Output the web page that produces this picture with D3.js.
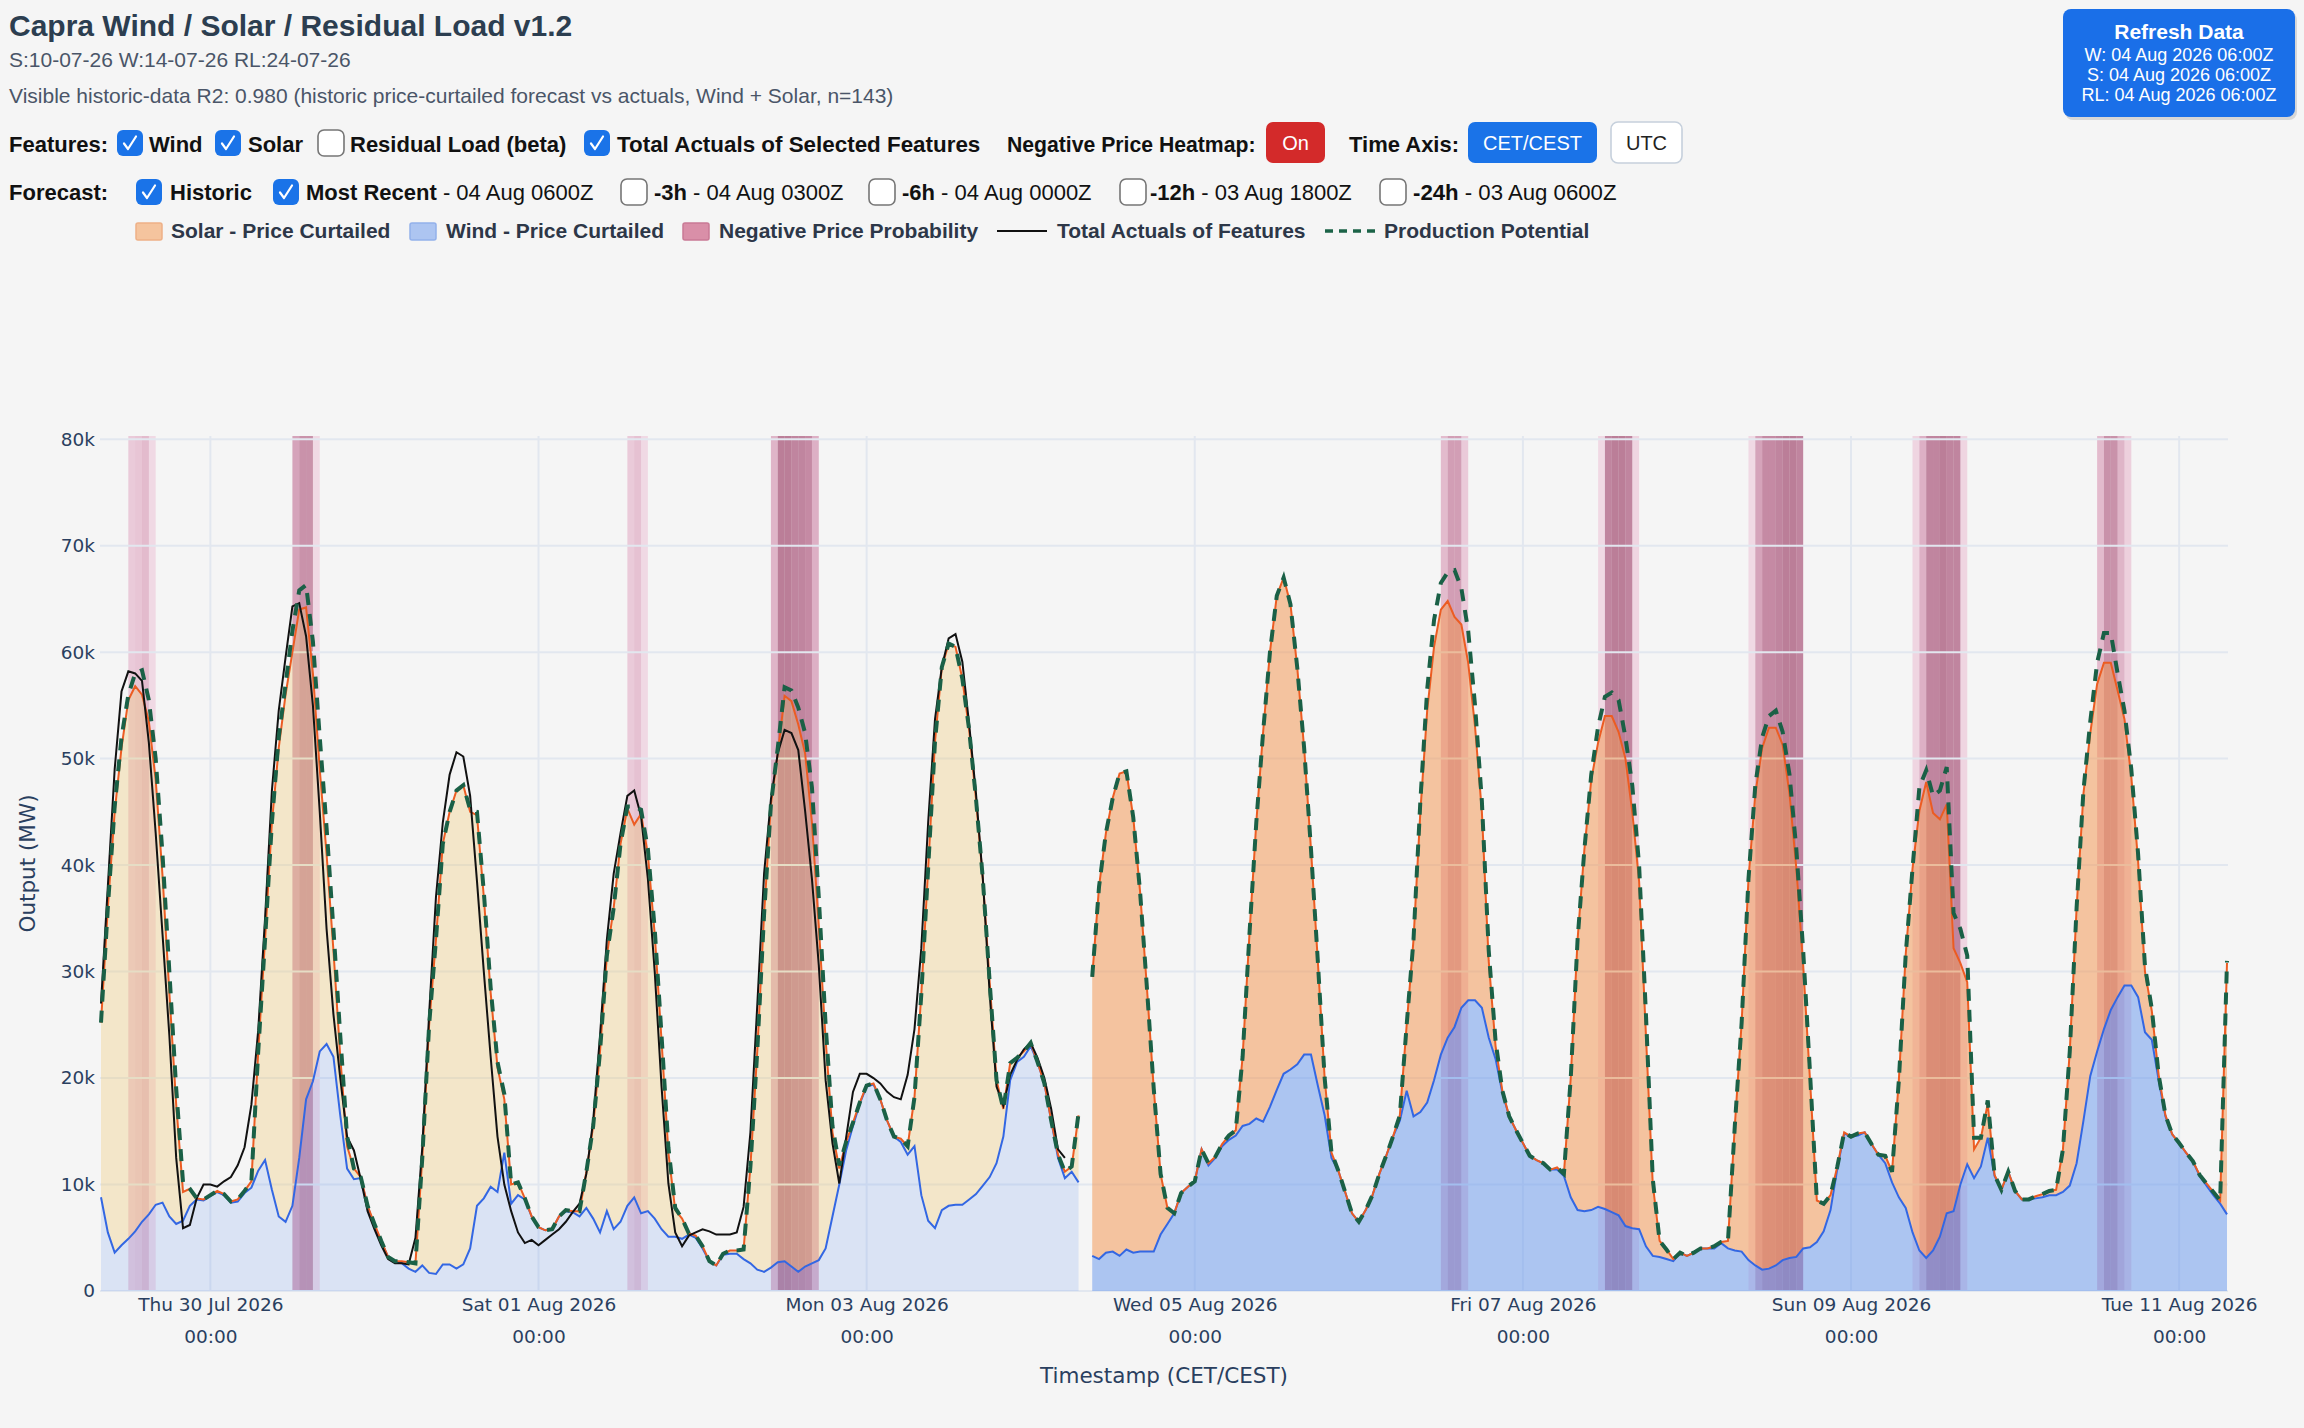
<!DOCTYPE html>
<html>
<head>
<meta charset="utf-8">
<script src="https://cdn.jsdelivr.net/npm/d3@7"></script>
<style>
body { margin: 0; background: #f5f5f5; }
svg { display: block; font-family: "Liberation Sans", Arial, sans-serif; }
</style>
</head>
<body>
<svg id="chart" width="2304" height="1428"></svg>
<script>
// hourly values in thousand MW
var histStart = "2026-07-29 08:00";
var fcStart = "2026-08-04 09:00";

var histWind = [
    8.8, 5.5, 3.6, 4.3, 4.9, 5.6, 6.5, 7.2, 8.1, 8.3,
    7.0, 6.3, 6.6, 8.0, 8.6, 8.5, 8.9, 9.3, 9.0, 8.3,
    8.4, 9.2, 9.7, 11.3, 12.3, 9.5, 7.0, 6.5, 8.0, 12.5,
    18.0, 19.7, 22.5, 23.2, 22.0, 16.5, 11.5, 10.5, 10.6, 8.0,
    6.0, 4.6, 3.2, 2.7, 2.6, 2.1, 1.8, 2.4, 1.7, 1.6,
    2.5, 2.5, 2.1, 2.5, 4.0, 8.0, 8.7, 9.8, 9.3, 13.0,
    8.2, 9.0, 8.6, 7.0, 6.0, 5.7, 5.8, 7.0, 7.5, 7.4,
    7.0, 7.8, 6.8, 5.5, 7.5, 5.8, 6.5, 8.0, 8.8, 7.3,
    7.5, 6.8, 5.8, 5.1, 5.1, 4.9, 5.3, 5.0, 4.0, 2.8,
    2.4, 3.4, 3.5, 3.5, 3.0, 2.6, 2.0, 1.8, 2.2, 2.7,
    2.8, 2.3, 1.8, 2.3, 2.6, 2.9, 4.0, 7.0, 10.0, 13.2,
    15.5, 17.6, 19.2, 19.4, 18.0, 16.0, 14.5, 14.0, 12.8, 13.6,
    9.0, 6.6, 5.9, 7.6, 8.0, 8.1, 8.1, 8.6, 9.1, 9.9,
    10.7, 12.0, 14.5, 19.8, 21.5, 22.0, 23.0, 21.5, 19.5, 16.0,
    12.5, 10.6, 11.2, 10.2
];
var histWindSolar = [
    25.2, 36, 45, 51, 55.5, 56.8, 56, 53.5, 48, 39,
    28, 17.5, 9.3, 9.6, 8.7, 8.6, 9.0, 9.4, 9.1, 8.4,
    8.6, 9.4, 10.3, 22.5, 33, 44, 51, 56, 60, 64,
    64.2, 58, 49, 41, 32, 22, 13.6, 11.5, 10.7, 8.0,
    6.3, 4.7, 3.2, 2.8, 2.8, 2.7, 2.6, 12.5, 25, 33,
    42, 45, 47, 47.5, 45, 44.7, 37, 28, 21, 18,
    10, 10.2, 8.7, 7.0, 6.0, 5.7, 5.8, 7.0, 7.6, 7.5,
    7.5, 11.2, 15.5, 22.5, 31.5, 36, 42, 45.3, 43.8, 44.8,
    41, 33.5, 23.5, 13, 7.6, 6.8, 5.4, 5.2, 4.2, 2.8,
    2.4, 3.5, 3.8, 3.8, 3.9, 11.7, 22.5, 35.4, 45.7, 50.5,
    55.9, 55.4, 53.2, 50.5, 44, 34.3, 23.6, 14.9, 11.5, 14.0,
    15.8, 17.7, 19.3, 19.5, 18.0, 16.0, 14.5, 14.3, 13.6, 18.2,
    27.9, 39.7, 51.6, 58.6, 60.8, 60.5, 57.5, 52.7, 46.2, 38.7,
    29, 19.8, 17.1, 21.4, 21.9, 22.5, 23.3, 21.5, 19.5, 16.0,
    12.8, 11.2, 11.7, 16.5
];
var histPotential = [
    25.2, 36, 45.5, 52, 56, 58, 58.3, 55.5, 50, 41,
    30, 19, 10.2, 9.6, 8.7, 8.6, 9.0, 9.4, 9.1, 8.4,
    8.6, 9.4, 10.3, 22.5, 33, 44, 52, 57, 62, 65.8,
    66.3, 61, 52, 43.5, 34, 24, 14.5, 11.5, 10.7, 8.0,
    6.3, 4.7, 3.2, 2.8, 2.8, 2.7, 2.6, 12.5, 25, 33,
    42, 45, 47, 47.5, 45.2, 45, 37.5, 28.5, 21.5, 18.5,
    10, 10.2, 8.7, 7.0, 6.0, 5.7, 5.8, 7.0, 7.6, 7.5,
    7.5, 11.2, 15.5, 22.5, 31.5, 36, 42, 45.5, 45.5, 45.2,
    41.5, 34, 24, 13.5, 7.8, 6.8, 5.4, 5.2, 4.2, 2.8,
    2.4, 3.5, 3.8, 3.8, 3.9, 11.7, 22.5, 35.4, 45.7, 51,
    56.7, 56.4, 54.8, 52.4, 47.3, 37, 25, 15.5, 11.8, 14.0,
    15.8, 17.7, 19.3, 19.5, 18.0, 16.0, 14.5, 14.3, 13.6, 18.2,
    27.9, 39.7, 51.6, 58.6, 60.8, 60.5, 57.5, 52.7, 46.2, 38.7,
    29, 19.8, 17.1, 21.4, 21.9, 22.5, 23.3, 21.5, 19.5, 16.0,
    12.8, 11.2, 11.7, 16.7
];
var histActuals = [
    27, 38, 49, 56.3, 58.2, 58, 57.3, 51.5, 43, 33.5,
    24, 12.5, 5.9, 6.2, 8.7, 10.0, 10.0, 9.8, 10.3, 10.7,
    11.8, 13.5, 17.5, 24.5, 35, 47, 54.5, 59.5, 64.3, 64.6,
    61.5, 55, 45, 34, 26, 20, 14.5, 13.2, 10.5, 7.5,
    5.8, 4.3, 3.0, 2.6, 2.6, 2.5, 5.0, 13.5, 26, 37,
    44, 48.5, 50.6, 50.2, 46.5, 38.5, 30, 22, 14.5, 10,
    7.5, 5.5, 4.5, 4.8, 4.3, 4.8, 5.3, 5.8, 6.5, 7.4,
    8.2, 11, 16, 24, 33, 39.2, 43, 46.5, 47, 44.6,
    38.7, 30, 19.2, 10.1, 5.5, 4.2, 5.2, 5.5, 5.8, 5.6,
    5.3, 5.3, 5.3, 5.5, 7.9, 14.9, 26.8, 39.2, 46.2, 50.5,
    52.7, 52.4, 50.8, 45.1, 38.7, 30.6, 19.8, 13.9, 10.1, 14.4,
    18.7, 20.4, 20.4, 20, 19.5, 18.7, 18.2, 18, 20.3, 24.6,
    32.2, 44, 53.7, 58.6, 61.3, 61.7, 59.1, 53.2, 46.7, 38.7,
    27.9, 19.2, 17.4, 20.3, 21.7, 22.7, 23.3, 21.9, 20, 17.1,
    13.3, 12.5
];

var fcWind = [
    3.3, 3.0, 3.6, 3.7, 3.3, 3.9, 3.6, 3.7, 3.7, 3.7,
    5.3, 6.3, 7.3, 9.2, 9.8, 10.3, 13.3, 11.8, 12.5, 13.6,
    14.2, 14.6, 15.5, 15.7, 16.2, 15.9, 17.3, 18.9, 20.4, 20.8,
    21.3, 22.2, 22.2, 19.3, 16.5, 12.5, 11.3, 9.3, 7.3, 6.5,
    7.6, 9.0, 11.0, 12.7, 14.5, 16.0, 18.8, 16.4, 16.8, 17.7,
    19.8, 22.2, 23.8, 24.8, 26.6, 27.3, 27.3, 26.6, 23.8, 21.8,
    18.6, 16.4, 15.1, 13.9, 12.7, 12.3, 12.0, 11.4, 11.4, 10.8,
    8.8, 7.6, 7.5, 7.6, 7.9, 7.7, 7.4, 7.1, 6.1, 5.9,
    5.8, 4.2, 3.3, 3.2, 3.0, 2.8, 3.6, 3.3, 3.6, 4.0,
    4.0, 4.0, 4.5, 4.0, 3.8, 3.7, 2.9, 2.4, 2.0, 2.1,
    2.4, 2.9, 3.1, 3.2, 4.0, 4.1, 4.6, 5.6, 7.6, 11.5,
    14.8, 14.5, 14.6, 14.9, 13.8, 12.8, 12.0, 10.2, 8.8, 7.8,
    5.5, 3.8, 3.1, 3.8, 5.1, 7.3, 7.5, 10.0, 11.9, 10.6,
    11.7, 14.4, 10.8, 9.5, 11.2, 9.4, 8.6, 8.6, 8.7, 8.8,
    9.0, 9.0, 9.3, 9.9, 12.0, 16.0, 20.2, 22.5, 24.6, 26.4,
    27.6, 28.7, 28.7, 27.6, 24.3, 23.6, 19.8, 16.4, 14.7, 13.9,
    13.0, 12.2, 10.8, 9.9, 9.0, 8.2, 7.2
];
var fcWindSolar = [
    29.5, 38, 43, 46.3, 48.6, 48.8, 44.5, 37.5, 28.5, 19,
    11, 7.8, 7.3, 9.2, 9.8, 10.3, 13.3, 12.0, 12.6, 13.8,
    14.6, 15.1, 22, 33.5, 44, 52.5, 60, 65.3, 67, 64.5,
    58.5, 51, 41.5, 31, 20, 13, 11.3, 9.3, 7.3, 6.5,
    7.6, 9.0, 11.0, 12.7, 14.5, 16.5, 25, 33, 45, 54.5,
    60.5, 64, 64.8, 63.3, 62.6, 59, 53, 45, 31, 23,
    18.8, 16.4, 15.1, 13.9, 12.7, 12.3, 12.0, 11.4, 11.6, 11.0,
    20, 33, 41.5, 48, 51.5, 54, 54, 52.5, 50, 45,
    38.5, 24, 10, 4.7, 3.9, 3.0, 3.6, 3.3, 3.6, 4.0,
    4.0, 4.2, 4.6, 4.7, 15.5, 25.2, 38.7, 46.7, 51, 52.9,
    52.9, 51.3, 46.7, 39.7, 30.6, 19.8, 8.5, 8.2, 9.0, 11.7,
    14.9, 14.5, 14.8, 14.9, 13.8, 12.8, 12.7, 11.2, 19.8, 31.6,
    39.7, 45.1, 47.8, 44.9, 44.3, 45.7, 32.2, 30.8, 29, 13.3,
    14.4, 17.6, 10.9, 9.5, 11.2, 9.4, 8.6, 8.6, 8.9, 9.1,
    9.4, 9.5, 13.3, 22.5, 36, 46.7, 52.4, 57, 59, 59,
    56.4, 53.7, 48.3, 40.3, 30, 26.3, 20.3, 16.5, 14.7, 13.9,
    13.0, 12.2, 10.9, 10.1, 9.3, 8.5, 30.8
];
var fcPotential = [
    29.5, 38, 43, 46.3, 48.6, 48.8, 44.5, 37.5, 28.5, 19,
    11, 7.8, 7.3, 9.2, 9.8, 10.3, 13.3, 12.0, 12.6, 13.8,
    14.6, 15.1, 22, 33.5, 44, 52.5, 60, 65.3, 67, 64.5,
    58.5, 51, 41.5, 31, 20, 13, 11.3, 9.3, 7.3, 6.5,
    7.6, 9.0, 11.0, 12.7, 14.5, 16.5, 25, 33, 46, 56.5,
    63, 66.5, 67.5, 67.7, 66, 62, 55, 46, 32, 23.5,
    18.8, 16.4, 15.1, 13.9, 12.7, 12.3, 12.0, 11.4, 11.6, 11.0,
    20, 33, 41.5, 48.5, 53, 55.8, 56.2, 55.5, 52, 47.5,
    40, 26, 10.5, 4.7, 3.9, 3.0, 3.6, 3.3, 3.6, 4.0,
    4.0, 4.2, 4.6, 4.7, 15.5, 25.2, 38.7, 47.5, 52, 54,
    54.5, 52.5, 48.5, 41.5, 32, 20.5, 8.5, 8.2, 9.0, 11.7,
    14.9, 14.5, 14.8, 14.9, 13.8, 12.8, 12.7, 11.2, 19.8, 31.6,
    39.7, 47.3, 48.9, 46.5, 47, 49.2, 35.5, 34, 31.5, 14.4,
    14.4, 17.9, 10.9, 9.5, 11.2, 9.4, 8.6, 8.6, 8.9, 9.1,
    9.4, 9.5, 13.3, 22.5, 36, 47, 53.5, 59, 61.8, 61.8,
    58, 54.5, 49, 41, 30.5, 26.5, 20.3, 16.5, 14.7, 13.9,
    13.0, 12.2, 10.9, 10.1, 9.3, 8.5, 31
];

var negPriceHours = [
    "2026-07-29 12:00", "2026-07-29 13:00", "2026-07-29 14:00", "2026-07-29 15:00",
    "2026-07-30 12:00", "2026-07-30 13:00", "2026-07-30 14:00", "2026-07-30 15:00",
    "2026-08-01 13:00", "2026-08-01 14:00", "2026-08-01 15:00",
    "2026-08-02 10:00", "2026-08-02 11:00", "2026-08-02 12:00", "2026-08-02 13:00",
    "2026-08-02 14:00", "2026-08-02 15:00", "2026-08-02 16:00",
    "2026-08-06 12:00", "2026-08-06 13:00", "2026-08-06 14:00", "2026-08-06 15:00",
    "2026-08-07 11:00", "2026-08-07 12:00", "2026-08-07 13:00", "2026-08-07 14:00",
    "2026-08-07 15:00", "2026-08-07 16:00",
    "2026-08-08 09:00", "2026-08-08 10:00", "2026-08-08 11:00", "2026-08-08 12:00",
    "2026-08-08 13:00", "2026-08-08 14:00", "2026-08-08 15:00", "2026-08-08 16:00",
    "2026-08-09 09:00", "2026-08-09 10:00", "2026-08-09 11:00", "2026-08-09 12:00",
    "2026-08-09 13:00", "2026-08-09 14:00", "2026-08-09 15:00", "2026-08-09 16:00",
    "2026-08-10 12:00", "2026-08-10 13:00", "2026-08-10 14:00", "2026-08-10 15:00",
    "2026-08-10 16:00"
];
var negPriceProb = [
    0.35, 0.4, 0.5, 0.2,
    0.7, 0.85, 0.85, 0.2,
    0.35, 0.45, 0.2,
    0.55, 1.0, 1.0, 0.95,
    0.95, 0.9, 0.6,
    0.5, 0.75, 0.75, 0.35,
    0.2, 0.95, 1.0, 1.0,
    0.95, 0.25,
    0.2, 0.7, 0.9, 0.9,
    0.95, 1.0, 1.0, 0.95,
    0.25, 0.6, 0.95, 0.95,
    1.0, 0.95, 0.95, 0.25,
    0.5, 0.85, 0.85, 0.55,
    0.3
];

var xTickDays = ["2026-07-30", "2026-08-01", "2026-08-03", "2026-08-05", "2026-08-07", "2026-08-09", "2026-08-11"];
var yTicks = [0, 10, 20, 30, 40, 50, 60, 70, 80];

var parseHour = d3.timeParse("%Y-%m-%d %H:%M");
var parseDay = d3.timeParse("%Y-%m-%d");

function buildRows(start, wind, windSolar, potential, actuals) {
    var t0 = parseHour(start);
    return wind.map(function(w, i) {
        return {
            t: d3.timeHour.offset(t0, i),
            wind: w,
            total: windSolar[i],
            potential: potential[i],
            actual: actuals && i < actuals.length ? actuals[i] : null
        };
    });
}

var hist = buildRows(histStart, histWind, histWindSolar, histPotential, histActuals);
var fc = buildRows(fcStart, fcWind, fcWindSolar, fcPotential, null);

var svg = d3.select("#chart");
svg.append("rect").attr("width", 2304).attr("height", 1428).attr("fill", "#f5f5f5");

// ---------- header ----------
svg.append("text").attr("x", 9).attr("y", 36)
    .attr("font-size", 30).attr("font-weight", "bold").attr("fill", "#2c3e50")
    .text("Capra Wind / Solar / Residual Load v1.2");
svg.append("text").attr("x", 9).attr("y", 67)
    .attr("font-size", 21).attr("fill", "#4a5568")
    .text("S:10-07-26 W:14-07-26 RL:24-07-26");
svg.append("text").attr("x", 9).attr("y", 103)
    .attr("font-size", 21).attr("fill", "#4a5568")
    .text("Visible historic-data R2: 0.980 (historic price-curtailed forecast vs actuals, Wind + Solar, n=143)");

function checkbox(x, yTop, checked) {
    var g = svg.append("g").attr("transform", "translate(" + x + "," + yTop + ")");
    g.append("rect").attr("width", 26).attr("height", 26).attr("rx", 6)
        .attr("fill", checked ? "#1a73e8" : "#ffffff")
        .attr("stroke", checked ? "#1a73e8" : "#767676")
        .attr("stroke-width", checked ? 0 : 1.6);
    if (checked) {
        g.append("path").attr("d", "M7,13.5 L11,19 L19,6.5")
            .attr("fill", "none").attr("stroke", "#fff").attr("stroke-width", 2.2)
            .attr("stroke-linecap", "round").attr("stroke-linejoin", "round");
    }
}

function label(x, yBase, parts, size, color) {
    var t = svg.append("text").attr("x", x).attr("y", yBase)
        .attr("font-size", size).attr("fill", color || "#111");
    parts.forEach(function(p) {
        t.append("tspan").attr("font-weight", p[1] ? "bold" : "normal").text(p[0]);
    });
    return t;
}

function button(x, yTop, w, h, fill, stroke, txt, txtColor) {
    svg.append("rect").attr("x", x).attr("y", yTop).attr("width", w).attr("height", h).attr("rx", 7)
        .attr("fill", fill).attr("stroke", stroke || "none").attr("stroke-width", 1.6);
    svg.append("text").attr("x", x + w / 2).attr("y", yTop + h / 2 + 7)
        .attr("text-anchor", "middle").attr("font-size", 20).attr("fill", txtColor)
        .text(txt);
}

// Features row
label(9, 152, [["Features:", true]], 22);
checkbox(117, 130, true);
label(149, 152, [["Wind", true]], 22);
checkbox(215, 130, true);
label(248, 152, [["Solar", true]], 22);
checkbox(318, 130, false);
label(350, 152, [["Residual Load (beta)", true]], 22);
checkbox(584, 130, true);
label(617, 152, [["Total Actuals of Selected Features", true]], 22.4);
label(1007, 152, [["Negative Price Heatmap:", true]], 21.2);
button(1266, 122, 59, 41, "#d32a2a", null, "On", "#fff");
label(1349, 152, [["Time Axis:", true]], 22);
button(1468, 122, 129, 41, "#1a73e8", null, "CET/CEST", "#fff");
button(1611, 122, 71, 41, "#ffffff", "#c6d0dc", "UTC", "#222");

// Forecast row
label(9, 200, [["Forecast:", true]], 22);
checkbox(136, 179, true);
label(170, 200, [["Historic", true]], 22);
checkbox(273, 179, true);
label(306, 200, [["Most Recent", true], [" - 04 Aug 0600Z", false]], 22);
checkbox(621, 179, false);
label(654, 200, [["-3h", true], [" - 04 Aug 0300Z", false]], 22);
checkbox(869, 179, false);
label(902, 200, [["-6h", true], [" - 04 Aug 0000Z", false]], 22);
checkbox(1120, 179, false);
label(1150, 200, [["-12h", true], [" - 03 Aug 1800Z", false]], 22);
checkbox(1380, 179, false);
label(1413, 200, [["-24h", true], [" - 03 Aug 0600Z", false]], 22.2);

// Refresh button
svg.append("rect").attr("x", 2065).attr("y", 12).attr("width", 232).attr("height", 108).attr("rx", 8)
    .attr("fill", "#000").attr("opacity", 0.12);
svg.append("rect").attr("x", 2063).attr("y", 9).attr("width", 232).attr("height", 108).attr("rx", 8)
    .attr("fill", "#1a6fe8");
svg.append("text").attr("x", 2179).attr("y", 39).attr("text-anchor", "middle")
    .attr("font-size", 21).attr("font-weight", "bold").attr("fill", "#fff").text("Refresh Data");
["W: 04 Aug 2026 06:00Z", "S: 04 Aug 2026 06:00Z", "RL: 04 Aug 2026 06:00Z"].forEach(function(s, i) {
    svg.append("text").attr("x", 2179).attr("y", 61 + i * 20).attr("text-anchor", "middle")
        .attr("font-size", 18).attr("fill", "#fff").text(s);
});

// Legend
var legY = 231;
svg.append("rect").attr("x", 136).attr("y", legY - 8).attr("width", 26).attr("height", 17).attr("rx", 2)
    .attr("fill", "#f5c49e").attr("stroke", "#eeb087").attr("stroke-width", 1.5);
label(171, 238, [["Solar - Price Curtailed", true]], 21, "#2d3748");
svg.append("rect").attr("x", 410).attr("y", legY - 8).attr("width", 26).attr("height", 17).attr("rx", 2)
    .attr("fill", "#adc5f1").attr("stroke", "#93b1ea").attr("stroke-width", 1.5);
label(446, 238, [["Wind - Price Curtailed", true]], 21, "#2d3748");
svg.append("rect").attr("x", 683).attr("y", legY - 8).attr("width", 26).attr("height", 17).attr("rx", 2)
    .attr("fill", "#d98fa8").attr("stroke", "#c97a95").attr("stroke-width", 1.5);
label(719, 238, [["Negative Price Probability", true]], 21, "#2d3748");
svg.append("line").attr("x1", 997).attr("x2", 1047).attr("y1", legY).attr("y2", legY)
    .attr("stroke", "#111").attr("stroke-width", 2);
label(1057, 238, [["Total Actuals of Features", true]], 21, "#2d3748");
svg.append("line").attr("x1", 1325).attr("x2", 1376).attr("y1", legY).attr("y2", legY)
    .attr("stroke", "#1b6347").attr("stroke-width", 3.5).attr("stroke-dasharray", "8,6");
label(1384, 238, [["Production Potential", true]], 21, "#2d3748");

// ---------- chart ----------
var plot = {left: 101, right: 2227, top: 436, bottom: 1291};
var x = d3.scaleTime()
    .domain([hist[0].t, fc[fc.length - 1].t])
    .range([plot.left, plot.right]);
var y = d3.scaleLinear().domain([0, 80.3]).range([plot.bottom, plot.top]);

var g = svg.append("g").attr("font-family", "'DejaVu Sans', Verdana, sans-serif");

// negative price heatmap (below grid)
var bandLight = d3.rgb(215, 75, 140), bandDark = d3.rgb(145, 40, 85);
var bandColor = d3.interpolateRgb(bandLight, bandDark);
g.append("g").selectAll("rect")
    .data(negPriceHours.map(function(h, i) { return {t: parseHour(h), p: negPriceProb[i]}; }))
    .enter().append("rect")
    .attr("x", function(d) { return x(d.t); })
    .attr("width", function(d) { return x(d3.timeHour.offset(d.t, 1)) - x(d.t); })
    .attr("y", plot.top)
    .attr("height", plot.bottom - plot.top)
    .attr("fill", function(d) { return bandColor(Math.max(0, (d.p - 0.2) / 0.8)); })
    .attr("fill-opacity", function(d) { return 0.16 + 0.42 * Math.max(0, (d.p - 0.2) / 0.8); });

// grid
var tickDates = xTickDays.map(parseDay);
g.append("g").selectAll("line").data(yTicks).enter().append("line")
    .attr("x1", plot.left - 1).attr("x2", plot.right + 1)
    .attr("y1", function(d) { return y(d); }).attr("y2", function(d) { return y(d); })
    .attr("stroke", "#e2e7ef").attr("stroke-width", 2);
g.append("g").selectAll("line").data(tickDates).enter().append("line")
    .attr("x1", function(d) { return x(d); }).attr("x2", function(d) { return x(d); })
    .attr("y1", plot.top).attr("y2", plot.bottom)
    .attr("stroke", "#e2e7ef").attr("stroke-width", 2);

var windArea = d3.area()
    .x(function(d) { return x(d.t); })
    .y0(y(0))
    .y1(function(d) { return y(d.wind); });
var solarArea = d3.area()
    .x(function(d) { return x(d.t); })
    .y0(function(d) { return y(d.wind); })
    .y1(function(d) { return y(d.total); });
var windLine = d3.line()
    .x(function(d) { return x(d.t); })
    .y(function(d) { return y(d.wind); });
var totalLine = d3.line()
    .x(function(d) { return x(d.t); })
    .y(function(d) { return y(d.total); });
var actualLine = d3.line()
    .defined(function(d) { return d.actual != null; })
    .x(function(d) { return x(d.t); })
    .y(function(d) { return y(d.actual); });
var potentialLine = d3.line()
    .x(function(d) { return x(d.t); })
    .y(function(d) { return y(d.potential); });

// historic fills (faded)
g.append("path").datum(hist).attr("d", windArea).attr("fill", "rgba(100,149,237,0.19)");
g.append("path").datum(hist).attr("d", solarArea).attr("fill", "rgba(240,200,110,0.32)");
// forecast fills
g.append("path").datum(fc).attr("d", windArea).attr("fill", "rgba(100,149,237,0.5)");
g.append("path").datum(fc).attr("d", solarArea).attr("fill", "rgba(243,150,80,0.52)");

[hist, fc].forEach(function(rows) {
    g.append("path").datum(rows).attr("d", windLine)
        .attr("fill", "none").attr("stroke", "#3367e3").attr("stroke-width", 2);
    g.append("path").datum(rows).attr("d", totalLine)
        .attr("fill", "none").attr("stroke", "#ec5c22").attr("stroke-width", 2);
});
g.append("path").datum(hist).attr("d", actualLine)
    .attr("fill", "none").attr("stroke", "#111").attr("stroke-width", 2);
[hist, fc].forEach(function(rows) {
    g.append("path").datum(rows).attr("d", potentialLine)
        .attr("fill", "none").attr("stroke", "#1a6046").attr("stroke-width", 4)
        .attr("stroke-dasharray", "12,9");
});

// axes
var yAxis = g.append("g")
    .attr("transform", "translate(" + (plot.left - 1) + ",0)")
    .call(d3.axisLeft(y).tickValues(yTicks).tickSize(0).tickPadding(5)
        .tickFormat(function(d) { return d === 0 ? "0" : d + "k"; }));
yAxis.select(".domain").remove();
yAxis.selectAll("text").attr("font-size", 18.5).attr("fill", "#2a3f5f")
    .attr("font-family", "'DejaVu Sans', Verdana, sans-serif");

var fmtDay = d3.timeFormat("%a %d %b %Y");
var fmtTime = d3.timeFormat("%H:%M");
var xAxis = g.append("g")
    .attr("transform", "translate(0," + plot.bottom + ")")
    .call(d3.axisBottom(x).tickValues(tickDates).tickSize(0));
xAxis.select(".domain").remove();
xAxis.selectAll(".tick text").each(function(d) {
    var t = d3.select(this).text(null).attr("y", null).attr("dy", null)
        .attr("font-size", 18.5).attr("fill", "#2a3f5f")
        .attr("font-family", "'DejaVu Sans', Verdana, sans-serif");
    t.append("tspan").attr("x", 0).attr("y", 20).text(fmtDay(d));
    t.append("tspan").attr("x", 0).attr("y", 52).text(fmtTime(d));
});

g.append("text").attr("x", (plot.left + plot.right) / 2).attr("y", 1383)
    .attr("text-anchor", "middle").attr("font-size", 21.5).attr("fill", "#2a3f5f")
    .text("Timestamp (CET/CEST)");
g.append("text")
    .attr("transform", "translate(35," + ((plot.top + plot.bottom) / 2) + ") rotate(-90)")
    .attr("text-anchor", "middle").attr("font-size", 21.5).attr("fill", "#2a3f5f")
    .text("Output (MW)");
</script>
</body>
</html>
